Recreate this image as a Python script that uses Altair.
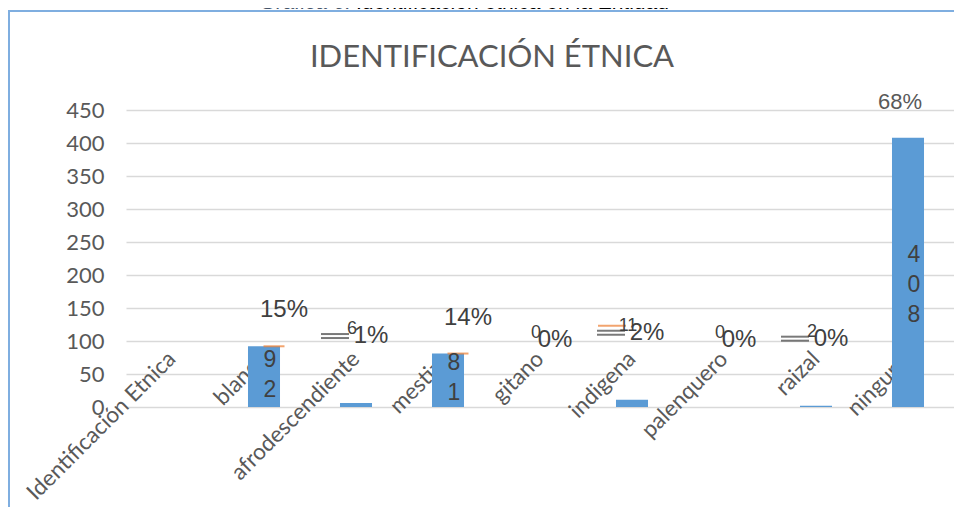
import altair as alt
import pandas as pd

categories = ["Identificación Etnica", "blanco", "afrodescendiente", "mestizo", "gitano",
              "indigena", "palenquero", "raizal", "ninguno"]
counts = [None, 92, 6, 81, 0, 11, 0, 2, 408]
pcts = [None, 15, 1, 14, 0, 2, 0, 0, 68]
y_ticks = [0, 50, 100, 150, 200, 250, 300, 350, 400, 450]

df = pd.DataFrame({"cat": categories, "count": counts, "pct": pcts})
df["stack"] = df["count"].apply(lambda c: "" if pd.isna(c) else "\n".join(str(int(c))))
df["plabel"] = df["pct"].apply(lambda p: "" if pd.isna(p) else f"{int(p)}%")
df["clabel"] = df["count"].apply(lambda c: "" if pd.isna(c) else str(int(c)))
df["mid"] = df["count"] / 2

BLUE = "#5B9BD5"
ORANGE = "#ED7D31"
TXT = "#595959"
DARK = "#404040"

xaxis = alt.Axis(title=None, labelAngle=-45, labelAlign="right", labelBaseline="middle",
                 labelPadding=-52, domain=False, ticks=False, labelFont="Lato",
                 labelFontSize=22.5, labelColor=TXT, labelOverlap=False, labelLimit=400,
                 grid=False)
xscale = alt.Scale(paddingInner=0.652, paddingOuter=0.326)
yscale = alt.Scale(domain=[0, 450])
yaxis = alt.Axis(title=None, values=y_ticks, domain=False, ticks=False, labelFont="Lato",
                 labelFontSize=22, labelColor=TXT, labelPadding=22, gridColor="#D9D9D9",
                 gridWidth=1.5)


def X():
    return alt.X("cat:N", sort=categories, scale=xscale, axis=xaxis)


def Y(field="count:Q"):
    return alt.Y(field, scale=yscale, axis=yaxis)


base = alt.Chart(df)

bars = base.mark_bar(color=BLUE).encode(x=X(), y=Y())

orange_big = base.transform_filter("datum.count > 50 && datum.pct < 50").mark_tick(
    color=ORANGE, orient="horizontal", size=21, thickness=2).encode(
    x=X(), y=Y(), xOffset=alt.value(26))
orange_small = base.transform_filter("datum.pct >= 2 && datum.count < 50").mark_tick(
    color=ORANGE, orient="horizontal", size=28, thickness=2).encode(
    x=X(), y=Y(), xOffset=alt.value(-4), yOffset=alt.value(-74))

dash1 = base.transform_filter("datum.count >= 1 && datum.count < 20").mark_tick(
    color=DARK, orient="horizontal", size=28, thickness=2).encode(
    x=X(), y=Y(), xOffset=alt.value(-5), yOffset=alt.value(-69))
dash2 = base.transform_filter("datum.count >= 1 && datum.count < 20").mark_tick(
    color=DARK, orient="horizontal", size=28, thickness=2).encode(
    x=X(), y=Y(), xOffset=alt.value(-5), yOffset=alt.value(-65))

pct_big = base.transform_filter("datum.count > 50 && datum.pct < 50").mark_text(
    font="Liberation Sans", fontSize=24, color=DARK, dx=20, dy=-36, baseline="middle").encode(
    x=X(), y=Y(), text="plabel:N")
pct_top = base.transform_filter("datum.pct >= 50").mark_text(
    font="Liberation Sans", fontSize=22, color=TXT, dx=-8, dy=-36, baseline="middle").encode(
    x=X(), y=Y(), text="plabel:N")
pct_small = base.transform_filter("datum.count < 50").mark_text(
    font="Liberation Sans", fontSize=24, color=DARK, dx=15, dy=-67, baseline="middle").encode(
    x=X(), y=Y(), text="plabel:N")
cnt_small = base.transform_filter("datum.count < 50").mark_text(
    font="Liberation Sans", fontSize=18, color=DARK, dx=-4, dy=-74, baseline="middle").encode(
    x=X(), y=Y(), text="clabel:N")
cnt_in = base.transform_filter("datum.count > 50").mark_text(
    font="Liberation Sans", fontSize=23, color=DARK, dx=6, dy=-17, baseline="middle",
    lineBreak="\n", lineHeight=30).encode(
    x=X(), y=Y("mid:Q"), text="stack:N")

one = alt.Data(values=[{"a": 1}])
frame = alt.Chart(one).mark_rect(fillOpacity=0, stroke="#7FAEE0", strokeWidth=2).encode(
    x=alt.value(-117), x2=alt.value(900), y=alt.value(-99), y2=alt.value(500))
title = alt.Chart(one).mark_text(text="IDENTIFICACIÓN ÉTNICA", font="Lato", fontSize=31,
                                 color=TXT, align="center", baseline="alphabetic").encode(
    x=alt.value(366), y=alt.value(-43))
cap1 = alt.Chart(one).mark_text(text="Gráfica 6.", font="Liberation Sans", fontSize=21,
                                fontStyle="italic", color="#44546A", align="right",
                                baseline="alphabetic").encode(
    x=alt.value(225), y=alt.value(-101))
cap2 = alt.Chart(one).mark_text(text="Identificación étnica en la Entidad", font="Liberation Sans",
                                fontSize=21, color="#000000", align="left",
                                baseline="alphabetic").encode(
    x=alt.value(230), y=alt.value(-101))

chart = alt.layer(bars, orange_big, orange_small, dash1, dash2, pct_big, pct_top, pct_small,
                  cnt_small, cnt_in, frame, title, cap1, cap2).properties(
    width=828, height=297,
    padding={"left": 118, "top": 102, "right": 0, "bottom": 100},
    autosize=alt.AutoSizeParams(type="none"),
).configure_view(stroke=None)

chart.save("out.html", embed_options={"renderer": "svg", "actions": False})
